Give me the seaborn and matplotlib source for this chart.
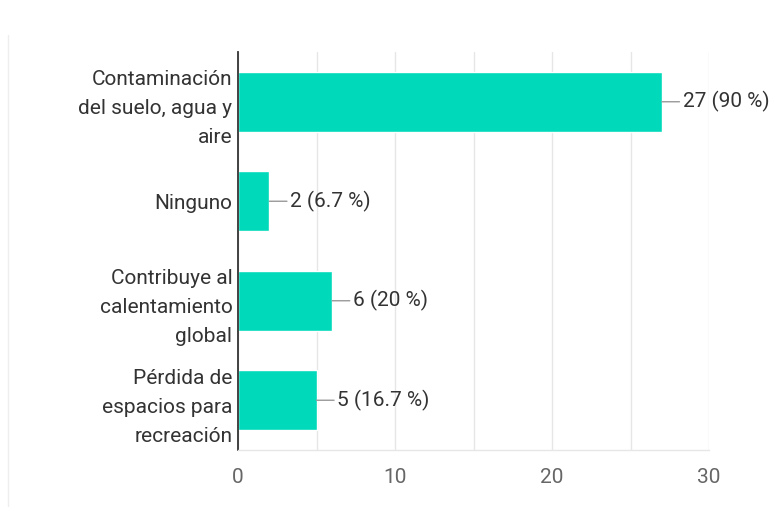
import matplotlib
matplotlib.use("Agg")
import matplotlib.pyplot as plt
import seaborn as sns
import pandas as pd
from matplotlib.ticker import MultipleLocator
from matplotlib.lines import Line2D

categories = [
    "Contaminación\ndel suelo, agua y\naire",
    "Ninguno",
    "Contribuye al\ncalentamiento\nglobal",
    "Pérdida de\nespacios para\nrecreación",
]
counts = [27, 2, 6, 5]
value_labels = ["27 (90 %)", "2 (6.7 %)", "6 (20 %)", "5 (16.7 %)"]
x_ticks = [0, 10, 20, 30]

sns.set_theme(style="white")
plt.rcParams['font.family'] = ['Roboto', 'DejaVu Sans']

df = pd.DataFrame({"cat": categories, "n": counts})

fig = plt.figure(figsize=(7.77, 5.07), dpi=100)
ax = fig.add_axes([238/777, 57/507, (709-238)/777, (450-52)/507])

sns.barplot(data=df, y="cat", x="n", orient="h", color="#00D9BA",
            saturation=1, width=0.6, ax=ax)

ax.set_xlim(0, 30)
ax.set_ylim(3.5, -0.5)
ax.set_xticks(x_ticks)
ax.xaxis.set_minor_locator(MultipleLocator(5))
ax.grid(axis="x", which="both", color="#e6e6e6", lw=1)
ax.set_axisbelow(True)
ax.set_xlabel("")
ax.set_ylabel("")

ax.spines["top"].set_visible(False)
ax.spines["right"].set_visible(False)
ax.spines["bottom"].set_color("#e6e6e6")
ax.spines["bottom"].set_linewidth(1)
ax.spines["left"].set_color("#333333")
ax.spines["left"].set_linewidth(1.3)

ax.tick_params(axis="x", which="both", length=0, pad=13, labelsize=15, labelcolor="#666666")
ax.tick_params(axis="y", length=0, pad=4, labelsize=15, labelcolor="#333333")
ax.set_yticks(range(len(categories)))
ax.set_yticklabels(categories, linespacing=1.66, ha="right", multialignment="right")

for i, (v, t) in enumerate(zip(counts, value_labels)):
    ax.annotate(t, xy=(v, i), xytext=(15, 0), textcoords="offset points",
                va="center", ha="left", fontsize=15, color="#333333",
                arrowprops=dict(arrowstyle="-", color="#999999", lw=1,
                                shrinkA=0, shrinkB=0),
                annotation_clip=False)

fig.add_artist(Line2D([8/777, 8/777], [0, 1 - 35/507], color="#eeeeee", lw=1,
                      transform=fig.transFigure))

fig.savefig("out.png", dpi=100, facecolor="white")
